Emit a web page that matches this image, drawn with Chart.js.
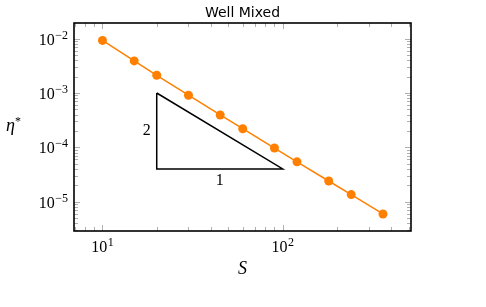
<!DOCTYPE html>
<html>
<head>
<meta charset="utf-8">
<script src="https://cdn.jsdelivr.net/npm/chart.js@4/dist/chart.umd.min.js"></script>
<style>
    html, body { margin: 0; padding: 0; background: #ffffff; }
    canvas { display: block; }
</style>
</head>
<body>
<canvas id="well-mixed-chart" width="486" height="307"></canvas>
<script>
// Dados
const sValues = [10, 15, 20, 30, 45, 60, 90, 120, 180, 240, 360];
const etaValues = [9.3e-3, 3.9e-3, 2.12e-3, 9.1e-4, 3.94e-4, 2.2e-4, 9.7e-5, 5.4e-5, 2.4e-5, 1.35e-5, 5.93e-6];

// Triângulo de inclinação 2:1
const triangleS = [20, 20, 100, 20];
const triangleEta = [1e-3, 4e-5, 4e-5, 1e-3];
const triangleLabels = ["2", "1"];

// Limites e marcações dos eixos
const xLimits = [6.95, 515];
const yLimits = [2.88e-6, 1.945e-2];
const xTickExponents = [1, 2];
const yTickExponents = [-2, -3, -4, -5];

const chartTitle = "Well Mixed";
const xTitle = "S";
const yTitle = "η";

const orange = "#ff8000";
const serif = "'Liberation Serif', 'DejaVu Serif', serif";

function powerLabel(ctx, exp, x, y, align) {
    const base = "10";
    const sup = exp < 0 ? "\u2212" + Math.abs(exp) : String(exp);
    ctx.font = "16px " + serif;
    const wBase = ctx.measureText(base).width;
    ctx.font = "12px " + serif;
    const wSup = ctx.measureText(sup).width;
    const total = wBase + 0.5 + wSup;
    let left = x;
    if(align === "right") left = x - total;
    if(align === "center") left = x - total / 2;
    ctx.textAlign = "left";
    ctx.textBaseline = "alphabetic";
    ctx.font = "16px " + serif;
    ctx.fillText(base, left, y);
    ctx.font = "12px " + serif;
    ctx.fillText(sup, left + wBase + 0.5, y - 6);
}

function minorTicks(min, max) {
    const list = [];
    for(let e = Math.floor(Math.log10(min)); e <= Math.ceil(Math.log10(max)); e++) {
        for(let m = 1; m <= 9; m++) {
            const v = m * Math.pow(10, e);
            if(v >= min && v <= max) list.push({ value: v, major: m === 1 });
        }
    }
    return list;
}

const decorPlugin = {
    id: "decor",
    afterDraw(chart) {
        const ctx = chart.ctx;
        const area = chart.chartArea;
        const xs = chart.scales.x;
        const ys = chart.scales.y;
        ctx.save();

        // Marcações internas dos eixos
        ctx.strokeStyle = "#9a9a9a";
        ctx.lineWidth = 0.8;
        minorTicks(xLimits[0], xLimits[1]).forEach(t => {
            const px = Math.round(xs.getPixelForValue(t.value)) + 0.5;
            const len = t.major ? 6 : 4;
            ctx.beginPath();
            ctx.moveTo(px, area.bottom); ctx.lineTo(px, area.bottom - len);
            ctx.moveTo(px, area.top); ctx.lineTo(px, area.top + len);
            ctx.stroke();
        });
        minorTicks(yLimits[0], yLimits[1]).forEach(t => {
            const py = Math.round(ys.getPixelForValue(t.value)) + 0.5;
            const len = t.major ? 6 : 4;
            ctx.beginPath();
            ctx.moveTo(area.left, py); ctx.lineTo(area.left + len, py);
            ctx.moveTo(area.right, py); ctx.lineTo(area.right - len, py);
            ctx.stroke();
        });

        // Moldura
        ctx.strokeStyle = "#000000";
        ctx.lineWidth = 1.6;
        ctx.strokeRect(area.left, area.top, area.right - area.left, area.bottom - area.top);

        // Rótulos das marcações
        ctx.fillStyle = "#000000";
        xTickExponents.forEach(e => {
            powerLabel(ctx, e, xs.getPixelForValue(Math.pow(10, e)), area.bottom + 21, "center");
        });
        yTickExponents.forEach(e => {
            powerLabel(ctx, e, area.left - 6, ys.getPixelForValue(Math.pow(10, e)) + 6, "right");
        });

        // Título
        ctx.font = "14px 'DejaVu Sans', sans-serif";
        ctx.textAlign = "center";
        ctx.textBaseline = "alphabetic";
        ctx.fillText(chartTitle, (area.left + area.right) / 2, 17);

        // Títulos dos eixos
        ctx.font = "italic 18px " + serif;
        ctx.fillText(xTitle, (area.left + area.right) / 2, area.bottom + 43);
        ctx.textAlign = "left";
        ctx.fillText(yTitle, 6, (area.top + area.bottom) / 2 + 4);
        ctx.font = "12px " + serif;
        ctx.fillText("*", 15, (area.top + area.bottom) / 2 - 2);

        // Rótulos do triângulo
        ctx.font = "16px " + serif;
        ctx.textAlign = "center";
        ctx.textBaseline = "middle";
        const midEta = Math.sqrt(triangleEta[0] * triangleEta[1]);
        const midS = Math.sqrt(triangleS[1] * triangleS[2]);
        ctx.fillText(triangleLabels[0], xs.getPixelForValue(triangleS[0]) - 10, ys.getPixelForValue(midEta));
        ctx.fillText(triangleLabels[1], xs.getPixelForValue(midS), ys.getPixelForValue(triangleEta[1]) + 12);

        ctx.restore();
    }
};

const canvas = document.getElementById("well-mixed-chart");
const chart = new Chart(canvas, {
    type: "scatter",
    data: {
        datasets: [
            {
                label: "eta",
                data: sValues.map((s, i) => ({ x: s, y: etaValues[i] })),
                showLine: true,
                borderColor: orange,
                backgroundColor: orange,
                borderWidth: 1.5,
                pointRadius: 4.5,
                pointBorderWidth: 0,
                pointBackgroundColor: orange
            },
            {
                label: "slope",
                data: triangleS.map((s, i) => ({ x: s, y: triangleEta[i] })),
                showLine: true,
                borderColor: "#000000",
                borderWidth: 1.5,
                pointRadius: 0
            }
        ]
    },
    options: {
        responsive: false,
        animation: false,
        layout: { padding: { left: 0, right: 75, top: 23, bottom: 0 } },
        plugins: {
            legend: { display: false },
            title: { display: false },
            tooltip: { enabled: false }
        },
        scales: {
            x: {
                type: "logarithmic",
                min: xLimits[0],
                max: xLimits[1],
                grid: { display: false },
                border: { display: false },
                ticks: { display: false },
                afterFit: scale => { scale.height = 76; }
            },
            y: {
                type: "logarithmic",
                min: yLimits[0],
                max: yLimits[1],
                grid: { display: false },
                border: { display: false },
                ticks: { display: false },
                afterFit: scale => { scale.width = 74; }
            }
        }
    },
    plugins: [decorPlugin]
});
</script>
</body>
</html>
